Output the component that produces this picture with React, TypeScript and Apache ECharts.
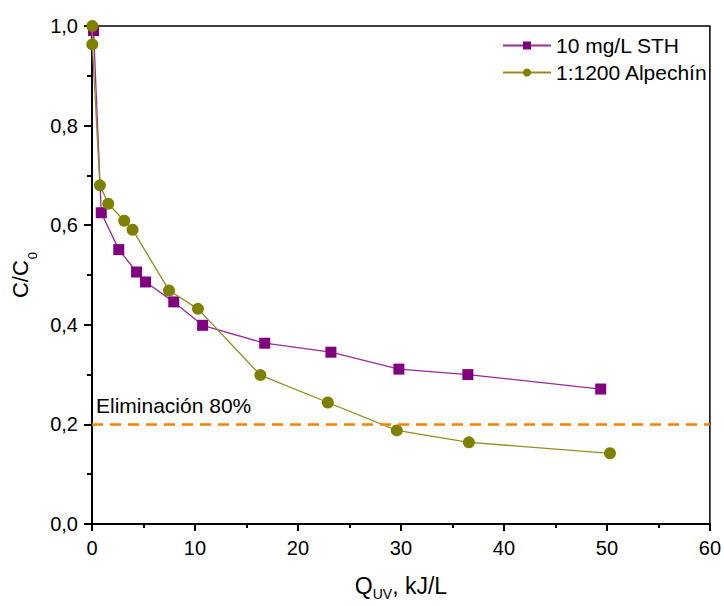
import React, { useEffect, useRef } from "react";
import * as echarts from "echarts";

const sthQ = [0.15, 0.9, 2.6, 4.33, 5.2, 7.94, 10.74, 16.77, 23.2, 29.8, 36.5, 49.4];
const sthC = [0.991, 0.625, 0.551, 0.506, 0.486, 0.446, 0.399, 0.363, 0.345, 0.311, 0.3, 0.271];

const alpQ = [0.03, 0.03, 0.77, 1.58, 3.13, 3.94, 7.48, 10.29, 16.35, 22.9, 29.6, 36.6, 50.3];
const alpC = [1.0, 0.963, 0.68, 0.643, 0.609, 0.591, 0.469, 0.432, 0.299, 0.244, 0.188, 0.164, 0.142];

const seriesNames = ["10 mg/L STH", "1:1200 Alpechín"];
const thresholdValue = 0.2;
const thresholdLabel = "Eliminación 80%";

const FONT = "'Liberation Sans', Arial, sans-serif";

export default function App() {
  const ref = useRef<HTMLDivElement>(null);
  useEffect(() => {
    if (!ref.current) return;
    const chart = echarts.init(ref.current, null, { renderer: "svg" });
    const pair = (xs: number[], ys: number[]) => xs.map((x, i) => [x, ys[i]]);
    chart.setOption({
      animation: false,
      backgroundColor: "#fff",
      textStyle: { fontFamily: FONT },
      grid: {
        left: 92,
        right: 12,
        top: 26,
        bottom: 81,
        show: true,
        borderColor: "#000",
        borderWidth: 1.5,
        backgroundColor: "transparent",
      },
      legend: {
        orient: "vertical",
        left: 497,
        top: 30,
        itemWidth: 48,
        itemHeight: 10,
        itemGap: 6,
        align: "left",
        textStyle: { fontSize: 21, color: "#000", fontFamily: FONT },
        data: seriesNames,
      },
      xAxis: {
        type: "value",
        min: 0,
        max: 60,
        interval: 10,
        name: "{m|Q}{s|UV}{m|, kJ/L}",
        nameLocation: "middle",
        nameGap: 50,
        nameTextStyle: {
          rich: {
            m: { fontSize: 23, lineHeight: 23, verticalAlign: "top", color: "#000", fontFamily: FONT },
            s: { fontSize: 14, lineHeight: 14, padding: [13, 0, 0, 0], verticalAlign: "top", color: "#000", fontFamily: FONT },
          },
        },
        axisLine: { show: true, onZero: false, lineStyle: { color: "#000", width: 2 } },
        axisTick: { show: true, inside: false, length: 7, lineStyle: { color: "#000", width: 2 } },
        minorTick: { show: true, splitNumber: 2, length: 4, lineStyle: { color: "#000", width: 2 } },
        axisLabel: { fontSize: 20, color: "#000", margin: 14, fontFamily: FONT },
        splitLine: { show: false },
      },
      yAxis: {
        type: "value",
        min: 0,
        max: 1,
        interval: 0.2,
        name: "{m|C/C}{s|0}",
        nameLocation: "middle",
        nameGap: 55,
        nameRotate: 90,
        nameTextStyle: {
          rich: {
            m: { fontSize: 22, lineHeight: 22, verticalAlign: "top", color: "#000", fontFamily: FONT },
            s: { fontSize: 13, lineHeight: 13, padding: [17, 0, 0, 1], verticalAlign: "top", color: "#000", fontFamily: FONT },
          },
        },
        axisLine: { show: true, onZero: false, lineStyle: { color: "#000", width: 2 } },
        axisTick: { show: true, inside: false, length: 8, lineStyle: { color: "#000", width: 2 } },
        minorTick: { show: true, splitNumber: 2, length: 5, lineStyle: { color: "#000", width: 2 } },
        axisLabel: {
          fontSize: 20,
          color: "#000",
          margin: 14,
          fontFamily: FONT,
          formatter: (v: number) => v.toFixed(1).replace(".", ","),
        },
        splitLine: { show: false },
      },
      series: [
        {
          name: seriesNames[0],
          type: "line",
          data: pair(sthQ, sthC),
          symbol: "rect",
          symbolSize: 11,
          itemStyle: { color: "#800080" },
          lineStyle: { color: "#9a2a9a", width: 1.3 },
          z: 3,
        },
        {
          name: seriesNames[1],
          type: "line",
          data: pair(alpQ, alpC),
          symbol: "circle",
          symbolSize: 12,
          itemStyle: { color: "#808000" },
          lineStyle: { color: "#8f8f20", width: 1.3 },
          z: 4,
          markLine: {
            silent: true,
            symbol: "none",
            lineStyle: { color: "#FF8000", width: 2.5, type: [11, 7] },
            label: {
              show: true,
              position: "insideStartTop",
              formatter: thresholdLabel,
              fontSize: 21,
              color: "#000",
              fontFamily: FONT,
              distance: [4, 8],
            },
            data: [{ yAxis: thresholdValue }],
          },
        },
      ],
    });
    return () => chart.dispose();
  }, []);
  return (
    <div
      ref={ref}
      style={{ position: "fixed", left: 0, top: 0, width: 724, height: 606, background: "#fff" }}
    />
  );
}
